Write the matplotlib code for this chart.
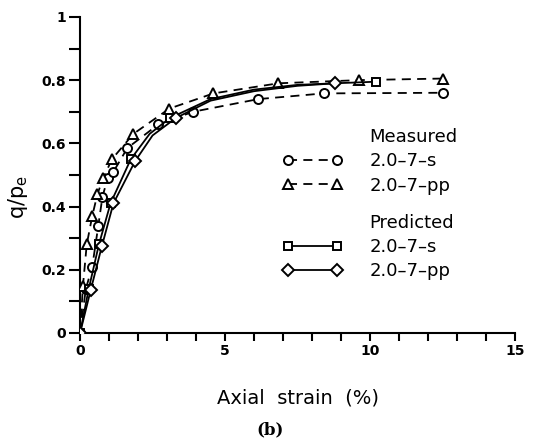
import matplotlib
matplotlib.use("Agg")
import matplotlib.pyplot as plt
from matplotlib.lines import Line2D

# Measured 2.0-7-s (circles, dashed)
meas_s_x = [0, 0.2, 0.42, 0.63, 0.77, 0.95, 1.15, 1.63, 2.7, 3.9, 6.15, 8.4, 12.5]
meas_s_y = [0, 0.14, 0.21, 0.34, 0.43, 0.49, 0.51, 0.585, 0.66, 0.70, 0.74, 0.758, 0.76]

# Measured 2.0-7-pp (triangles, dashed)
meas_pp_x = [0, 0.1, 0.23, 0.42, 0.6, 0.8, 1.1, 1.84, 3.08, 4.6, 6.84, 9.62, 12.5]
meas_pp_y = [0, 0.15, 0.28, 0.37, 0.44, 0.49, 0.55, 0.63, 0.71, 0.758, 0.79, 0.80, 0.805]

# Predicted 2.0-7-s (squares, solid)
pred_s_x = [0, 0.3, 0.65, 1.05, 1.75, 2.4, 3.1, 4.5, 6.0, 7.5, 8.8, 10.2]
pred_s_y = [0, 0.14, 0.28, 0.41, 0.55, 0.63, 0.68, 0.74, 0.77, 0.785, 0.79, 0.795]
pred_s_marks = [0, 1, 2, 3, 4, 6, 11]

# Predicted 2.0-7-pp (diamonds, solid)
pred_pp_x = [0, 0.37, 0.75, 1.15, 1.9, 2.5, 3.3, 4.5, 6.0, 7.5, 8.8]
pred_pp_y = [0, 0.137, 0.274, 0.41, 0.544, 0.625, 0.68, 0.735, 0.765, 0.782, 0.79]
pred_pp_marks = [0, 1, 2, 3, 4, 6, 10]

x_ticks = [0, 5, 10, 15]
y_ticks = [0, 0.2, 0.4, 0.6, 0.8, 1.0]
y_tick_labels = ["0", "0.2", "0.4", "0.6", "0.8", "1"]

fig = plt.figure(figsize=(5.41, 4.45), dpi=100)
ax = fig.add_axes([0.148, 0.2517, 0.804, 0.7103])

lw = 1.3
ms = 6.5
dash = (5, 3.5)
common = dict(color="black", lw=lw, markerfacecolor="white", markeredgecolor="black",
              markeredgewidth=1.4, ms=ms)

l1, = ax.plot(meas_s_x, meas_s_y, marker="o", dashes=dash, zorder=3, **common)
l2, = ax.plot(meas_pp_x, meas_pp_y, marker="^", dashes=dash, zorder=3, **common)
l3, = ax.plot(pred_s_x, pred_s_y, marker="s", markevery=pred_s_marks, zorder=4,
              **{**common, "ms": 6})
l4, = ax.plot(pred_pp_x, pred_pp_y, marker="D", markevery=pred_pp_marks, zorder=4,
              **{**common, "ms": 6})

ax.set_xlim(0, 15)
ax.set_ylim(0, 1)
ax.set_xticks(x_ticks)
ax.set_xticks(range(0, 16), minor=True)
ax.set_yticks(y_ticks)
ax.set_yticklabels(y_tick_labels)
ax.set_yticks([i / 10 for i in range(11)], minor=True)

for s in ["top", "right"]:
    ax.spines[s].set_visible(False)
for s in ["left", "bottom"]:
    ax.spines[s].set_linewidth(1.5)

ax.tick_params(axis="x", which="both", direction="out", length=6, width=1.5,
               labelsize=10, pad=2)
ax.tick_params(axis="y", which="both", direction="out", length=8, width=1.5,
               labelsize=10, pad=2)
for lab in ax.get_xticklabels() + ax.get_yticklabels():
    lab.set_fontweight("bold")

ax.set_xlabel("Axial  strain  (%)", fontsize=14, labelpad=22)
ax.set_ylabel(r"q/p$_{\rm e}$", fontsize=15)
ax.yaxis.set_label_coords(-0.115, 0.43)

blank = Line2D([], [], linestyle="none", marker=None)
leg_kw = dict(frameon=False, fontsize=13, handlelength=3.3, handletextpad=1.5,
              numpoints=2, borderpad=0, borderaxespad=0, labelspacing=0.35,
              loc="upper left")
leg1 = fig.legend([blank, l1, l2], ["Measured", "2.0–7–s", "2.0–7–pp"],
                  bbox_to_anchor=(0.523, 0.712), **leg_kw)
leg2 = fig.legend([blank, l3, l4], ["Predicted", "2.0–7–s", "2.0–7–pp"],
                  bbox_to_anchor=(0.523, 0.52), **leg_kw)
for lg in (leg1, leg2):
    for h in lg.legend_handles:
        if hasattr(h, "set_markevery"):
            h.set_markevery(None)

fig.text(0.5, 0.035, "(b)", ha="center", va="center", fontsize=12,
         family="DejaVu Serif", fontweight="bold")

fig.savefig("out.png", dpi=100)
